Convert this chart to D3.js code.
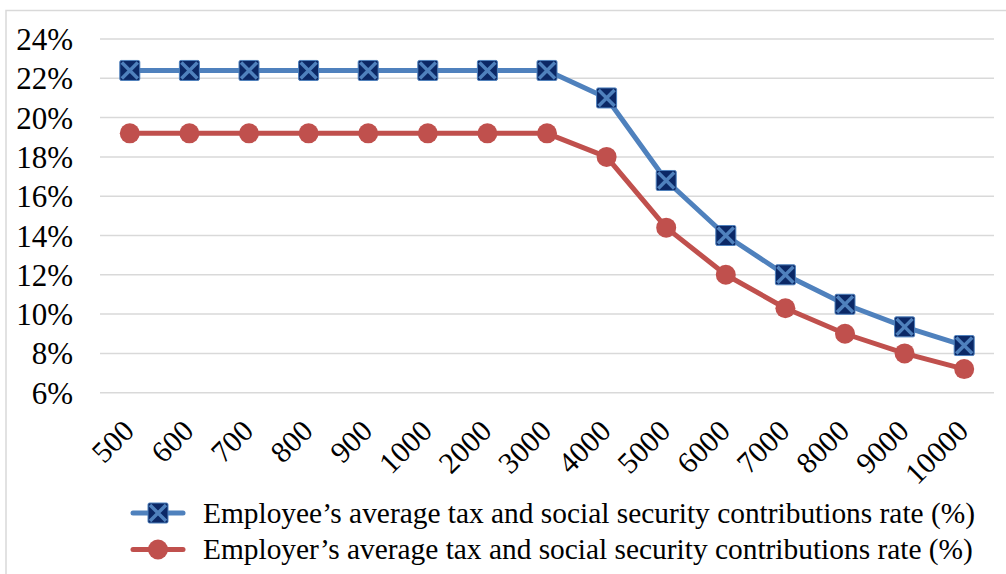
<!DOCTYPE html>
<html>
<head>
<meta charset="utf-8">
<script src="https://cdn.jsdelivr.net/npm/d3@7"></script>
<style>
  body { margin: 0; background: #fff; }
  text { font-family: "Liberation Serif", "Times New Roman", serif; fill: #000; }
</style>
</head>
<body>
<div id="chart-div"></div>
<script>
// chart size
const CHART_WIDTH = 1006;
const CHART_HEIGHT = 574;
const PLOT = { left: 100, right: 994, top: 39, bottom: 392.7 };
const SERIF = '"Liberation Serif", "Times New Roman", serif';

// data
const categories = ['500', '600', '700', '800', '900', '1000', '2000', '3000',
  '4000', '5000', '6000', '7000', '8000', '9000', '10000'];
const employeeRate = [22.4, 22.4, 22.4, 22.4, 22.4, 22.4, 22.4, 22.4,
  21.0, 16.8, 14.0, 12.0, 10.5, 9.35, 8.4];
const employerRate = [19.2, 19.2, 19.2, 19.2, 19.2, 19.2, 19.2, 19.2,
  18.0, 14.4, 12.0, 10.3, 9.0, 8.0, 7.2];
const yTicks = [6, 8, 10, 12, 14, 16, 18, 20, 22, 24];
const legendLabels = [
  'Employee\u2019s average tax and social security contributions rate (%)',
  'Employer\u2019s average tax and social security contributions rate (%)'
];

const BLUE = '#4f81bd';
const NAVY = '#0b2866';
const RED = '#c0504d';

const svg = d3.select('#chart-div')
  .append('svg')
  .attr('width', CHART_WIDTH)
  .attr('height', CHART_HEIGHT);

// chart border
svg.append('rect')
  .attr('x', 6).attr('y', 10.5)
  .attr('width', CHART_WIDTH + 10).attr('height', CHART_HEIGHT + 10)
  .attr('fill', 'none')
  .attr('stroke', '#d9d9d9')
  .attr('stroke-width', 1.5);

const xScale = d3.scaleBand()
  .domain(categories)
  .range([PLOT.left, PLOT.right]);

const yScale = d3.scaleLinear()
  .domain([6, 24])
  .range([PLOT.bottom, PLOT.top]);

// gridlines
svg.append('g')
  .selectAll('line')
  .data(yTicks)
  .join('line')
  .attr('x1', PLOT.left).attr('x2', PLOT.right)
  .attr('y1', d => yScale(d)).attr('y2', d => yScale(d))
  .attr('stroke', '#d9d9d9')
  .attr('stroke-width', 1.5);

// y axis labels
const yAxis = svg.append('g')
  .attr('transform', `translate(${PLOT.left - 27}, 0)`)
  .call(d3.axisLeft(yScale).tickValues(yTicks).tickSize(0).tickPadding(0).tickFormat(d => d + '%'));
yAxis.select('.domain').remove();
yAxis.attr('font-family', SERIF);
yAxis.selectAll('text')
  .attr('font-size', 31)
  .attr('dy', '0.34em')
  .style('font-family', SERIF);

// x axis labels, rotated
const xAxis = svg.append('g')
  .attr('transform', `translate(0, ${PLOT.bottom})`)
  .call(d3.axisBottom(xScale).tickSize(0).tickPadding(0));
xAxis.select('.domain').remove();
xAxis.attr('font-family', SERIF);
xAxis.selectAll('text')
  .attr('font-size', 30)
  .attr('text-anchor', 'end')
  .attr('dy', 0)
  .attr('y', 0)
  .attr('transform', 'translate(6, 40) rotate(-45)')
  .style('font-family', SERIF);

const cx = d => xScale(d) + xScale.bandwidth() / 2;

const line = d3.line()
  .x(d => cx(d.cat))
  .y(d => yScale(d.val));

const employee = categories.map((c, i) => ({ cat: c, val: employeeRate[i] }));
const employer = categories.map((c, i) => ({ cat: c, val: employerRate[i] }));

svg.append('path')
  .datum(employer)
  .attr('d', line)
  .attr('fill', 'none')
  .attr('stroke', RED)
  .attr('stroke-width', 5)
  .attr('stroke-linejoin', 'round');

svg.append('path')
  .datum(employee)
  .attr('d', line)
  .attr('fill', 'none')
  .attr('stroke', BLUE)
  .attr('stroke-width', 5)
  .attr('stroke-linejoin', 'round');

// markers
function drawSquareX (g, x, y) {
  const h = 10;
  g.append('rect')
    .attr('x', x - h).attr('y', y - h)
    .attr('width', 2 * h).attr('height', 2 * h)
    .attr('rx', 1.5)
    .attr('fill', NAVY)
    .attr('stroke', BLUE)
    .attr('stroke-width', 1);
  g.append('path')
    .attr('d', `M${x - h + 2},${y - h + 2}L${x + h - 2},${y + h - 2}M${x + h - 2},${y - h + 2}L${x - h + 2},${y + h - 2}`)
    .attr('stroke', BLUE)
    .attr('stroke-width', 3.5);
}

svg.append('g')
  .selectAll('circle')
  .data(employer)
  .join('circle')
  .attr('cx', d => cx(d.cat))
  .attr('cy', d => yScale(d.val))
  .attr('r', 10)
  .attr('fill', RED);

const empMarkers = svg.append('g');
employee.forEach(d => drawSquareX(empMarkers, cx(d.cat), yScale(d.val)));

// legend
const legendY = [513, 549.5];
const legend = svg.append('g');
legendLabels.forEach((lab, i) => {
  const y = legendY[i];
  legend.append('line')
    .attr('x1', 133).attr('x2', 183)
    .attr('y1', y).attr('y2', y)
    .attr('stroke', i === 0 ? BLUE : RED)
    .attr('stroke-width', 5)
    .attr('stroke-linecap', 'round');
  if (i === 0) {
    drawSquareX(legend, 158, y);
  } else {
    legend.append('circle').attr('cx', 158).attr('cy', y).attr('r', 10).attr('fill', RED);
  }
  legend.append('text')
    .attr('x', 203)
    .attr('y', y)
    .attr('dy', '0.33em')
    .attr('font-size', 29.4)
    .style('font-family', SERIF)
    .text(lab);
});
</script>
</body>
</html>
